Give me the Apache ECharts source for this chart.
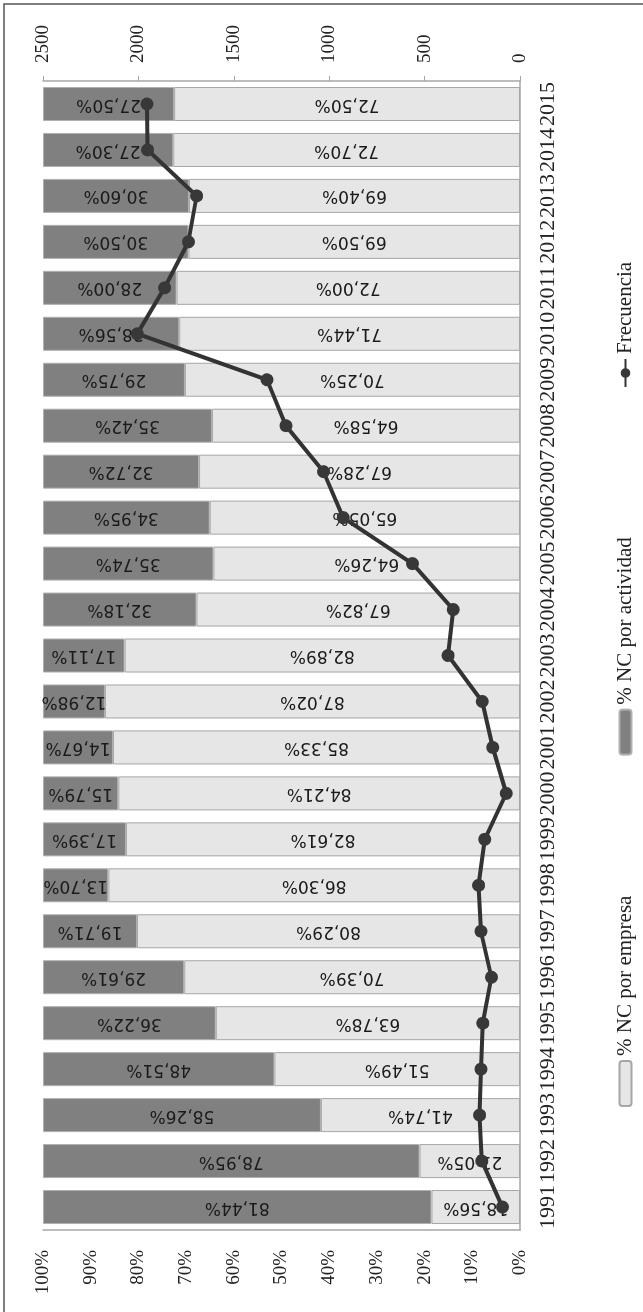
<!DOCTYPE html>
<html>
<head>
<meta charset="utf-8">
<script src="https://cdn.jsdelivr.net/npm/echarts@6/dist/echarts.min.js"></script>
<style>
  html, body { margin: 0; padding: 0; background: #fff; overflow: hidden; }
  /* the chart is laid out landscape, then turned a quarter left */
  #chart {
    position: absolute; left: 0; top: 0;
    width: 1312px; height: 643px;
    transform-origin: 0 0;
    transform: translateY(1312px) rotate(-90deg);
  }
</style>
</head>
<body>
<div id="chart"></div>
<script>
'use strict';

const years = ['1991','1992','1993','1994','1995','1996','1997','1998','1999','2000','2001','2002','2003',
  '2004','2005','2006','2007','2008','2009','2010','2011','2012','2013','2014','2015'];
const ncEmpresa = [18.56, 21.05, 41.74, 51.49, 63.78, 70.39, 80.29, 86.30, 82.61, 84.21, 85.33, 87.02, 82.89,
  67.82, 64.26, 65.05, 67.28, 64.58, 70.25, 71.44, 72.00, 69.50, 69.40, 72.70, 72.50];
const ncActividad = [81.44, 78.95, 58.26, 48.51, 36.22, 29.61, 19.71, 13.70, 17.39, 15.79, 14.67, 12.98, 17.11,
  32.18, 35.74, 34.95, 32.72, 35.42, 29.75, 28.56, 28.00, 30.50, 30.60, 27.30, 27.50];
const frecuencia = [92, 200, 212, 205, 195, 150, 205, 217, 185, 72, 143, 198, 377,
  350, 564, 927, 1030, 1227, 1326, 2006, 1863, 1738, 1695, 1952, 1955];

const serif = 'Liberation Serif';
const sans = 'DejaVu Sans';

const pct = v => v.toFixed(2).replace('.', ',') + '%';

const barLabel = {
  show: true,
  position: 'inside',
  rotate: 90,
  fontFamily: sans,
  fontSize: 17,
  color: '#1a1a1a',
  formatter: p => pct(p.value)
};

const legendText = { fontFamily: serif, fontSize: 21, color: '#222' };

const chart = echarts.init(document.getElementById('chart'), null, { renderer: 'canvas' });

chart.setOption({
  animation: false,
  backgroundColor: '#fff',
  graphic: [{
    type: 'rect',
    shape: { x: -10, y: 4, width: 1318, height: 660 },
    style: { fill: 'none', stroke: '#555', lineWidth: 1.5 },
    silent: true
  }],
  grid: { left: 82, right: 81, top: 43, bottom: 123 },
  legend: [{
    left: 200,
    top: 610,
    itemWidth: 45,
    itemHeight: 12,
    itemGap: 140,
    textStyle: legendText,
    data: ['% NC por empresa', '% NC por actividad']
  }, {
    left: 919,
    top: 610,
    itemWidth: 28,
    itemHeight: 12,
    textStyle: legendText,
    data: ['Frecuencia']
  }],
  xAxis: {
    type: 'category',
    data: years,
    axisLine: { lineStyle: { color: '#a6a6a6', width: 1.5 } },
    axisTick: { show: false },
    axisLabel: { interval: 0, margin: 17, fontFamily: serif, fontSize: 22, color: '#222' }
  },
  yAxis: [{
    type: 'value',
    min: 0, max: 100, interval: 10,
    splitLine: { show: false },
    axisLine: { show: true, lineStyle: { color: '#a6a6a6', width: 1.5 } },
    axisTick: { show: false },
    axisLabel: { margin: 20, fontFamily: serif, fontSize: 19, color: '#222', formatter: '{value}%' }
  }, {
    type: 'value',
    position: 'right',
    min: 0, max: 2500, interval: 500,
    splitLine: { show: false },
    axisLine: { show: true, lineStyle: { color: '#a6a6a6', width: 1.5 } },
    axisTick: { show: true, length: 5, lineStyle: { color: '#a6a6a6' } },
    axisLabel: { margin: 18, fontFamily: serif, fontSize: 19, color: '#222', formatter: v => String(v) }
  }],
  series: [{
    name: '% NC por empresa',
    type: 'bar',
    stack: 'nc',
    data: ncEmpresa,
    barCategoryGap: '26%',
    itemStyle: { color: '#e6e6e6', borderColor: '#a6a6a6', borderWidth: 1 },
    label: barLabel
  }, {
    name: '% NC por actividad',
    type: 'bar',
    stack: 'nc',
    data: ncActividad,
    itemStyle: { color: '#808080', borderColor: '#b0b0b0', borderWidth: 1 },
    label: barLabel
  }, {
    name: 'Frecuencia',
    type: 'line',
    yAxisIndex: 1,
    z: 5,
    data: frecuencia,
    symbol: 'circle',
    symbolSize: 13,
    lineStyle: { color: '#333', width: 4 },
    itemStyle: { color: '#383838' }
  }]
});
</script>
</body>
</html>
